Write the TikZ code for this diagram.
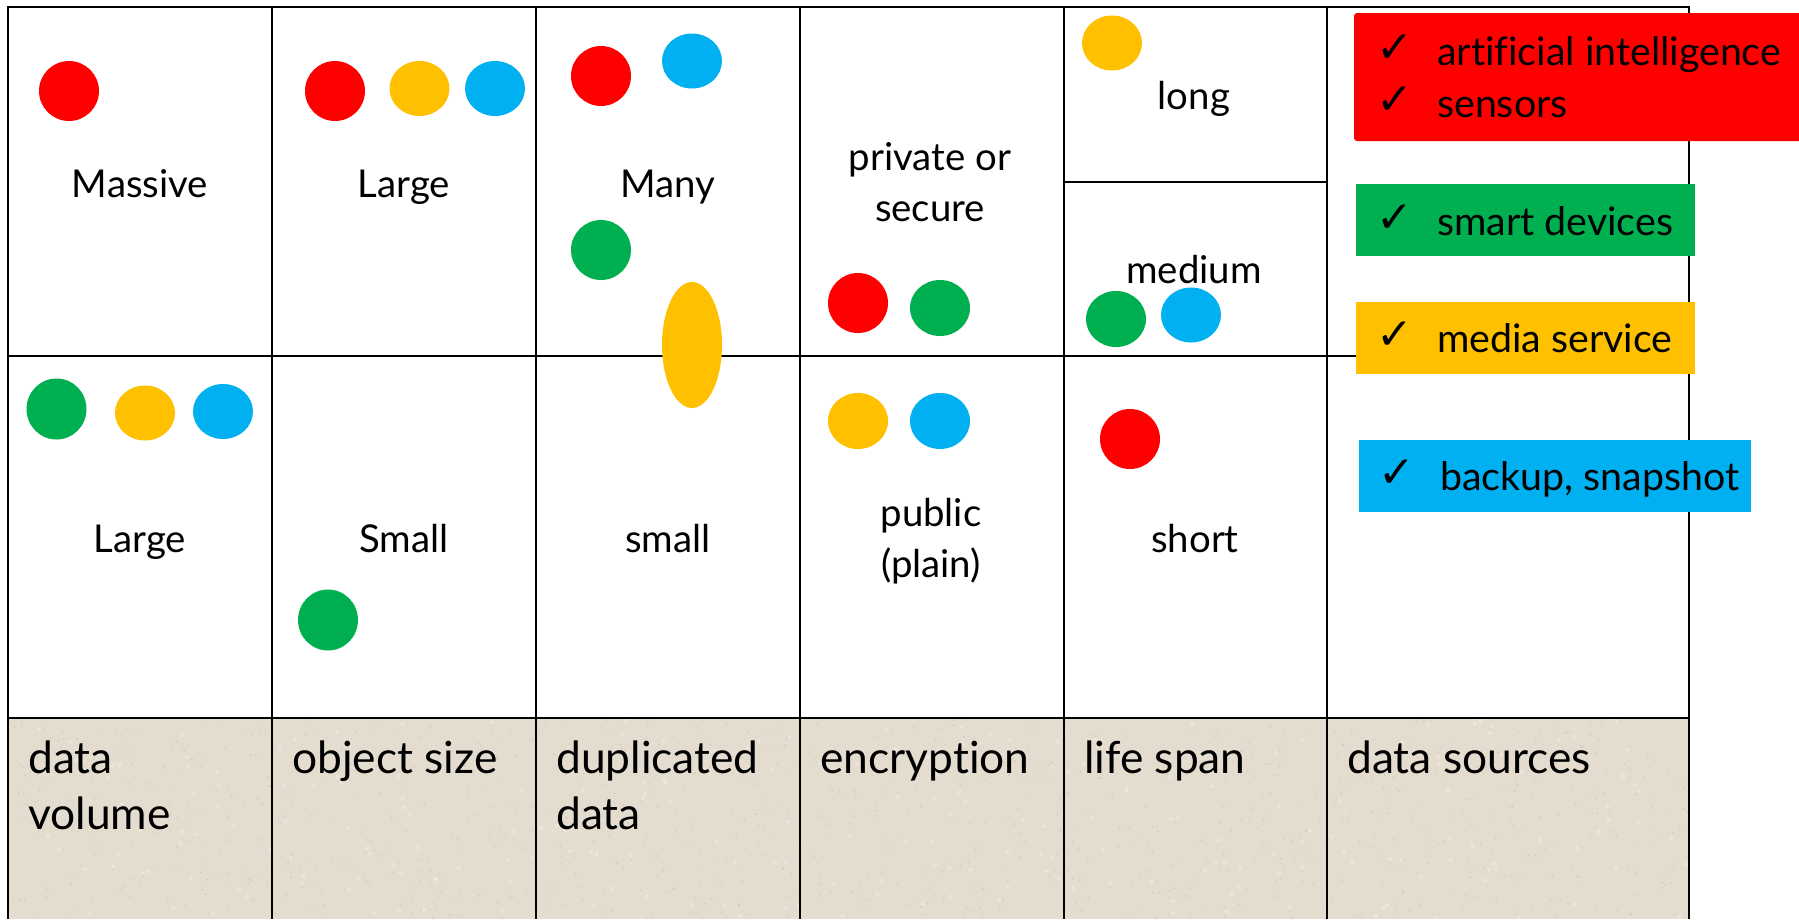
\documentclass[tikz,border=0pt]{standalone}
\usepackage{fontspec}
\setmainfont{Lato}[Ligatures=NoCommon]
\newfontfamily\symfont{DejaVu Sans}
\usetikzlibrary{shapes.geometric}
\definecolor{ored}{HTML}{FF0000}
\definecolor{ogreen}{HTML}{00B050}
\definecolor{oorange}{HTML}{FFC000}
\definecolor{oblue}{HTML}{00B0F0}
\definecolor{parch}{HTML}{E3DCCF}
\definecolor{speck}{HTML}{B9AF9C}

\begin{document}
\begin{tikzpicture}[x=1bp,y=-1bp,
  grid/.style={line width=2.2bp, black},
  dot/.style={ellipse, inner sep=0pt, minimum width=60bp, minimum height=60bp, draw=none},
  val/.style={font=\fontsize{38.5}{51}\selectfont, anchor=base, inner sep=0pt, align=center},
  head/.style={font=\fontsize{44.5}{56}\selectfont, anchor=base west, inner sep=0pt, align=left},
  tag/.style={font=\fontsize{39.5}{52}\selectfont, anchor=base west, inner sep=0pt},
  tick/.style={font=\symfont\fontsize{44}{52}\selectfont, anchor=base west, inner sep=0pt},
  band/.style={rectangle, inner sep=0pt, draw=none, anchor=north west},
]
\useasboundingbox (0,0) rectangle (1799,919);
\fill[white] (0,0) rectangle (1799,919);

% header band with a faint paper grain
\fill[parch] (8,718) rectangle (1689,919);
\pgfmathsetseed{4711}
\foreach \i in {1,...,900}{
  \pgfmathsetmacro\px{8+1681*rnd}
  \pgfmathsetmacro\py{720+199*rnd}
  \fill[speck, opacity=0.4] (\px,\py) circle (0.9);
}
\foreach \i in {1,...,250}{
  \pgfmathsetmacro\px{8+1681*rnd}
  \pgfmathsetmacro\py{720+199*rnd}
  \fill[white, opacity=0.25] (\px,\py) circle (2.2);
}

% table rules
\draw[grid] (8,919) -- (8,7) -- (1689,7) -- (1689,919);
\foreach \cx in {272,536,800,1064,1327}{
  \draw[grid] (\cx,7) -- (\cx,919);
}
\draw[grid] (8,356) -- (1689,356);
\draw[grid] (8,718) -- (1689,718);
\draw[grid] (1064,182) -- (1327,182);

% column headings (base anchor sits on the last line)
\node[head] (hvol) at (28,829) {data\\volume};
\node[head] (hsize) at (292,773) {object size};
\node[head] (hdup) at (556,829) {duplicated\\data};
\node[head] (henc) at (820,773) {encryption};
\node[head] (hlife) at (1084,773) {life span};
\node[head] (hsrc) at (1347,773) {data sources};

% cell values
\node[val] (vmassive) at (140,197) {Massive};
\node[val] (vlarge) at (404,197) {Large};
\node[val] (vmany) at (668,197) {Many};
\node[val] (vpriv) at (930,221) {private or\\secure};
\node[val] (vlong) at (1194,109) {long};
\node[val] (vmed) at (1194,283) {medium};
\node[val] (vlarge2) at (140,552) {Large};
\node[val] (vsmall) at (404,552) {Small};
\node[val] (vsmall2) at (668,552) {small};
\node[val] (vpub) at (931,577) {public\\(plain)};
\node[val] (vshort) at (1195,552) {short};

% source markers
\node[dot, fill=ored] (m1) at (69,91) {};
\node[dot, fill=ored] (m2) at (335,91) {};
\node[dot, fill=oorange, minimum height=55bp] (m3) at (419.5,88.5) {};
\node[dot, fill=oblue, minimum height=55bp] (m4) at (495,88.5) {};
\node[dot, fill=ored] (m5) at (601,76) {};
\node[dot, fill=oblue, minimum height=55bp] (m6) at (692,61) {};
\node[dot, fill=ogreen] (m7) at (601,250) {};
\node[dot, fill=oorange, minimum height=126bp] (m8) at (692,345) {};
\node[dot, fill=ored] (m9) at (858,303) {};
\node[dot, fill=ogreen, minimum height=56bp] (m10) at (940,308) {};
\node[dot, fill=oorange, minimum height=55bp] (m11) at (1112,43) {};
\node[dot, fill=ogreen, minimum height=56bp] (m12) at (1116,319) {};
\node[dot, fill=oblue, minimum height=55bp] (m13) at (1191,315) {};
\node[dot, fill=ogreen, minimum height=61bp] (m14) at (56.5,409) {};
\node[dot, fill=oorange, minimum height=55bp] (m15) at (145,413) {};
\node[dot, fill=oblue, minimum height=55bp] (m16) at (223,411.5) {};
\node[dot, fill=ogreen, minimum height=61bp] (m17) at (328,620) {};
\node[dot, fill=oorange, minimum height=56bp] (m18) at (858,421) {};
\node[dot, fill=oblue, minimum height=56bp] (m19) at (940,421) {};
\node[dot, fill=ored] (m20) at (1130,439) {};

% legend of data sources
\fill[ored, rounded corners=3bp] (1354,13) rectangle (1812,141);
\coordinate (lred) at (1354,13);
\node[band, fill=ogreen, minimum width=339bp, minimum height=72bp] (lgreen) at (1356,184) {};
\node[band, fill=oorange, minimum width=339bp, minimum height=72bp] (lorange) at (1356,302) {};
\node[band, fill=oblue, minimum width=392bp, minimum height=72bp] (lblue) at (1359,440) {};

\node[tick] (k1) at (1376,62) {✓};
\node[tag] (t1) at (1437,65) {artificial intelligence};
\node[tick] (k2) at (1376,114) {✓};
\node[tag] (t2) at (1437,117) {sensors};
\node[tick] (k3) at (1376,232) {✓};
\node[tag] (t3) at (1437,235) {smart devices};
\node[tick] (k4) at (1376,349) {✓};
\node[tag] (t4) at (1437,352) {media service};
\node[tick] (k5) at (1378,487) {✓};
\node[tag] (t5) at (1440,490) {backup, snapshot};
\end{tikzpicture}
\end{document}
